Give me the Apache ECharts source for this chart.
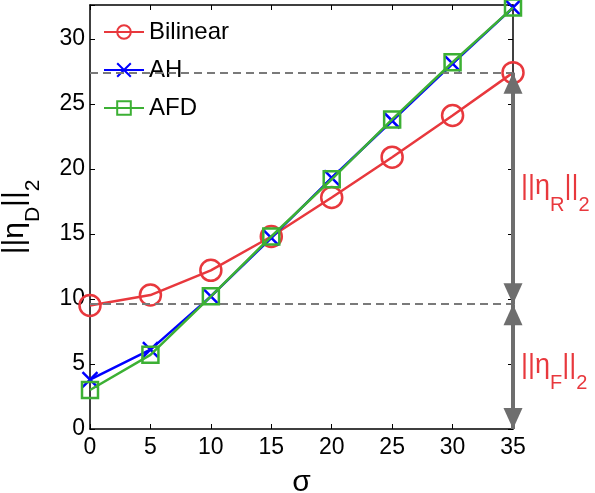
<!DOCTYPE html>
<html>
<head>
<meta charset="utf-8">
<script src="https://cdn.jsdelivr.net/npm/echarts@6/dist/echarts.min.js"></script>
<style>
  html, body { margin: 0; padding: 0; background: #fff; }
  #chart { width: 595px; height: 493px; }
</style>
</head>
<body>
<div id="chart"></div>
<script>
// 横轴 sigma
const sigma = [0, 5, 10, 15, 20, 25, 30, 35]
// 三条曲线
const bilinear = [9.5, 10.3, 12.2, 14.8, 17.8, 20.9, 24.1, 27.4]
const ah = [3.8, 6.1, 10.2, 14.7, 19.3, 23.7, 28.1, 32.4]
const afd = [3.0, 5.7, 10.2, 14.8, 19.2, 23.8, 28.2, 32.4]
// 两条虚线的位置 (||eta_R|| 与 ||eta_F|| 的分界)
const levelTop = 27.4
const levelMid = 9.6
const xTicks = [0, 5, 10, 15, 20, 25, 30, 35]
const yTicks = [0, 5, 10, 15, 20, 25, 30]

const RED = '#e8383d'
const BLUE = '#0000ff'
const GREEN = '#3cb034'
const FONT = 'Liberation Sans, Arial, sans-serif'

const chart = echarts.init(document.getElementById('chart'))

const pairs = arr => sigma.map((s, i) => [s, arr[i]])

const axisCommon = {
    type: 'value',
    axisLine: { show: true, onZero: false, lineStyle: { color: '#000', width: 1.5 } },
    axisTick: { show: true, inside: true, length: 5, lineStyle: { color: '#000', width: 1 } },
    splitLine: { show: false }
}

const option = {
    animation: false,
    textStyle: { fontFamily: FONT },
    grid: { left: 90, right: 82, top: 5, bottom: 64, outerBoundsMode: 'none', containLabel: false },
    legend: {
        data: ['Bilinear', 'AH', 'AFD'],
        orient: 'vertical',
        left: 103,
        top: 20,
        itemWidth: 40,
        itemHeight: 17,
        itemGap: 14,
        padding: 0,
        textStyle: { fontSize: 24, color: '#000', fontFamily: FONT }
    },
    xAxis: [
        Object.assign({}, axisCommon, {
            position: 'bottom',
            min: xTicks[0], max: xTicks[xTicks.length - 1], interval: 5,
            axisLabel: { fontSize: 23, color: '#000', margin: 7 },
            name: 'σ',
            nameLocation: 'middle',
            nameGap: 39,
            nameTextStyle: { fontSize: 30, color: '#000' }
        }),
        Object.assign({}, axisCommon, {
            position: 'top',
            min: xTicks[0], max: xTicks[xTicks.length - 1], interval: 5,
            axisLabel: { show: false }
        })
    ],
    yAxis: [
        Object.assign({}, axisCommon, {
            position: 'left',
            min: yTicks[0], max: 32.6, interval: 5,
            axisLabel: {
                fontSize: 23, color: '#000', margin: 5,
                formatter: v => (yTicks.indexOf(v) >= 0 ? String(v) : '')
            },
            name: '{m|||η}{s|D}{m|||}{s|2}',
            nameLocation: 'middle',
            nameRotate: 90,
            nameGap: 46,
            nameTextStyle: {
                color: '#000',
                rich: {
                    m: { fontSize: 30, lineHeight: 32, verticalAlign: 'top', fontFamily: FONT },
                    s: { fontSize: 21, lineHeight: 44, verticalAlign: 'bottom', fontFamily: FONT }
                }
            }
        }),
        Object.assign({}, axisCommon, {
            position: 'right',
            min: yTicks[0], max: 32.6, interval: 5,
            axisLabel: { show: false }
        })
    ],
    series: [
        {
            name: 'Bilinear',
            type: 'line',
            data: pairs(bilinear),
            symbol: 'circle',
            symbolSize: 21,
            lineStyle: { color: RED, width: 2.5 },
            itemStyle: { color: 'rgba(0,0,0,0)', borderColor: RED, borderWidth: 2.5 },
            z: 3
        },
        {
            name: 'AH',
            type: 'line',
            data: pairs(ah),
            symbol: 'path://M0,0L10,10M10,0L0,10',
            symbolSize: 15,
            lineStyle: { color: BLUE, width: 2.5 },
            itemStyle: { color: 'rgba(0,0,0,0)', borderColor: BLUE, borderWidth: 2.5 },
            z: 4
        },
        {
            name: 'AFD',
            type: 'line',
            data: pairs(afd),
            symbol: 'rect',
            symbolSize: 16,
            lineStyle: { color: GREEN, width: 2.5 },
            itemStyle: { color: 'rgba(0,0,0,0)', borderColor: GREEN, borderWidth: 2.5 },
            z: 5
        },
        {
            // 虚线 + 双向箭头
            name: 'annot',
            type: 'line',
            data: [],
            silent: true,
            z: 2,
            markLine: {
                silent: true,
                animation: false,
                label: { show: false },
                emphasis: { disabled: true },
                data: [
                    [
                        { coord: [xTicks[0], levelTop], symbol: 'none', lineStyle: { color: '#7a7a7a', width: 2, type: [8, 5] } },
                        { coord: [xTicks[7], levelTop], symbol: 'none' }
                    ],
                    [
                        { coord: [xTicks[0], levelMid], symbol: 'none', lineStyle: { color: '#7a7a7a', width: 2, type: [8, 5] } },
                        { coord: [xTicks[7], levelMid], symbol: 'none' }
                    ],
                    [
                        { coord: [xTicks[7], levelMid], symbol: 'triangle', symbolSize: [19, 21], symbolOffset: [0, '50%'],
                          lineStyle: { color: '#6e6e6e', width: 4, type: 'solid' } },
                        { coord: [xTicks[7], levelTop], symbol: 'triangle', symbolSize: [19, 21], symbolOffset: [0, '50%'] }
                    ],
                    [
                        { coord: [xTicks[7], 0], symbol: 'triangle', symbolSize: [19, 21], symbolOffset: [0, '50%'],
                          lineStyle: { color: '#6e6e6e', width: 4, type: 'solid' } },
                        { coord: [xTicks[7], levelMid], symbol: 'triangle', symbolSize: [19, 21], symbolOffset: [0, '50%'] }
                    ]
                ]
            }
        }
    ]
}

chart.setOption(option)

// 右侧红色标注文字
const labelRich = {
    m: { fontSize: 27, lineHeight: 30, verticalAlign: 'top', fill: RED, fontFamily: FONT },
    s: { fontSize: 20, lineHeight: 42, verticalAlign: 'bottom', fill: RED, fontFamily: FONT }
}
const midR = chart.convertToPixel({ xAxisIndex: 0, yAxisIndex: 0 }, [xTicks[7], (levelTop + levelMid) / 2])
const midF = chart.convertToPixel({ xAxisIndex: 0, yAxisIndex: 0 }, [xTicks[7], levelMid / 2])
chart.setOption({
    graphic: [
        {
            type: 'text', x: midR[0] + 8, y: midR[1] + 6, silent: true,
            style: { text: '{m|||η}{s|R}{m|||}{s|2}', rich: labelRich, verticalAlign: 'middle', fill: RED }
        },
        {
            type: 'text', x: midF[0] + 8, y: midF[1] + 6, silent: true,
            style: { text: '{m|||η}{s|F}{m|||}{s|2}', rich: labelRich, verticalAlign: 'middle', fill: RED }
        }
    ]
})
</script>
</body>
</html>
